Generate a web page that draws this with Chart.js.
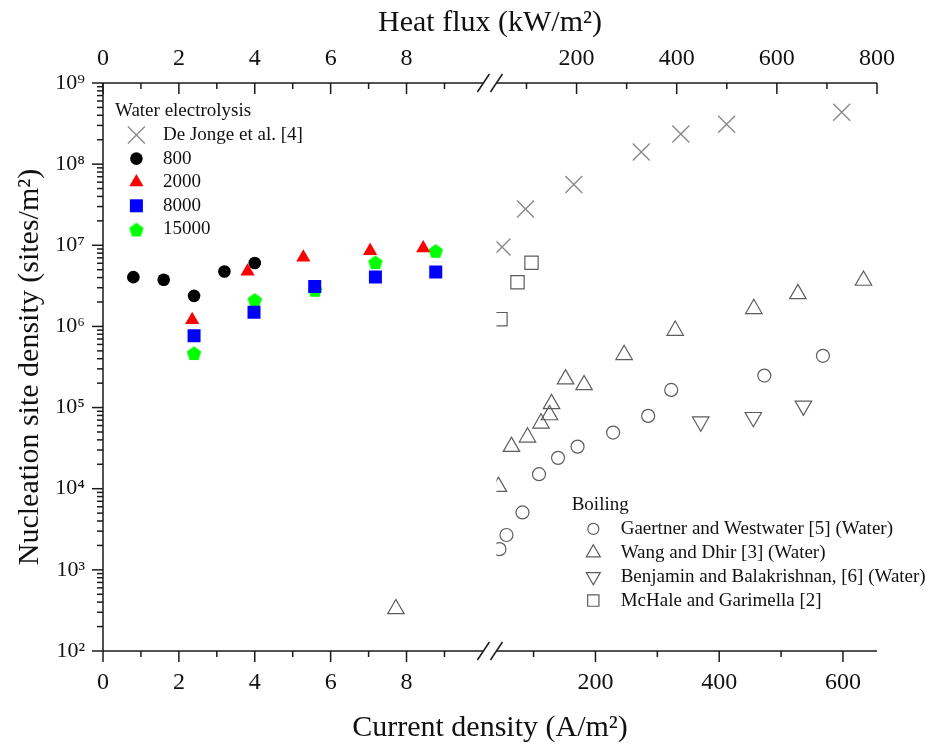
<!DOCTYPE html>
<html>
<head>
<meta charset="utf-8">
<script src="https://cdn.jsdelivr.net/npm/chart.js@4.4.1/dist/chart.umd.min.js"></script>
<style>
  html, body { margin: 0; padding: 0; background: #fff; }
  canvas { display: block; }
</style>
</head>
<body>
<canvas id="nsd" width="936" height="747"></canvas>
<script>
// Water electrolysis: current density (A/m2) vs nucleation site density (sites/m2)
const j800 = [0.8, 1.6, 2.4, 3.2, 4.0];
const n800 = [4.05e6, 3.76e6, 2.38e6, 4.75e6, 6.04e6];
const j2000 = [2.35, 3.81, 5.28, 7.04, 8.44];
const n2000 = [1.2e6, 4.75e6, 7.07e6, 8.55e6, 9.2e6];
const j8000 = [2.4, 3.98, 5.58, 7.18, 8.77];
const n8000 = [7.7e5, 1.5e6, 3.1e6, 4.06e6, 4.67e6];
const j15000 = [2.4, 4.0, 5.59, 7.18, 8.77];
const n15000 = [4.7e5, 2.13e6, 2.83e6, 6.2e6, 8.55e6];
const jDeJonge = [49, 87, 165, 274, 338, 412, 598];
const nDeJonge = [9.5e6, 2.8e7, 5.6e7, 1.41e8, 2.35e8, 3.1e8, 4.35e8];

// Boiling: heat flux (kW/m2) vs nucleation site density
const qGaertner = [46, 60, 92, 125, 163, 202, 273, 343, 389, 575, 692];
const nGaertner = [1.8e3, 2.69e3, 5.1e3, 1.51e4, 2.4e4, 3.3e4, 4.92e4, 7.9e4, 1.65e5, 2.48e5, 4.34e5];
const qWang = [7.72, 44, 70, 102, 129, 146, 150, 178, 215, 295, 397, 554, 642, 773];
const nWang = [330, 1.06e4, 3.3e4, 4.3e4, 6.4e4, 8.1e4, 1.11e5, 2.24e5, 1.9e5, 4.47e5, 8.9e5, 1.65e6, 2.52e6, 3.68e6];
const qBenjamin = [448, 553, 653];
const nBenjamin = [6.7e4, 7.6e4, 1.05e5];
const qMcHale = [48, 82, 110];
const nMcHale = [1.23e6, 3.5e6, 6.1e6];

// tick values
const currentTicks = [0, 2, 4, 6, 8, 200, 400, 600];
const currentMinor = [1, 3, 5, 7, 9, 100, 300, 500];
const heatTicks = [0, 2, 4, 6, 8, 200, 400, 600, 800];
const heatMinor = [1, 3, 5, 7, 9, 100, 300, 500, 700];
const decades = [1e2, 1e3, 1e4, 1e5, 1e6, 1e7, 1e8, 1e9];

// broken x axis: 0-10 on the left, 40-655 A/m2 (bottom) and 40-800 kW/m2 (top) on the right
const LEFT_END = 10, RIGHT_START = 40;
const CURRENT_END = 655, HEAT_END = 800;
const GAP = 0.37, RIGHT_LEN = 10.03;
const U_MAX = LEFT_END + GAP + RIGHT_LEN;

function brk(v, end) {
    if (v <= LEFT_END) return v;
    return LEFT_END + GAP + (v - RIGHT_START) / (end - RIGHT_START) * RIGHT_LEN;
}
const onCurrent = v => brk(v, CURRENT_END);
const onHeat = v => brk(v, HEAT_END);
const pts = (xs, ys, f) => xs.map((x, i) => ({ x: f(x), y: ys[i] }));

const FONT = "'Liberation Serif', 'Times New Roman', serif";
const SUP = { '0': '⁰', '1': '¹', '2': '²', '3': '³', '4': '⁴', '5': '⁵', '6': '⁶', '7': '⁷', '8': '⁸', '9': '⁹' };
const pow10 = v => '10' + String(Math.round(Math.log10(v))).split('').map(c => SUP[c]).join('');

// green pentagon marker (no built-in pentagon point style)
function makePentagon(color, r) {
    const c = document.createElement('canvas');
    const s = Math.ceil(r * 2 + 2);
    c.width = s; c.height = s;
    const g = c.getContext('2d');
    g.fillStyle = color;
    g.beginPath();
    for (let k = 0; k < 5; k++) {
        const a = -Math.PI / 2 + k * 2 * Math.PI / 5;
        const px = s / 2 + r * Math.cos(a), py = s / 2 + r * Math.sin(a) + r * 0.1;
        if (k) g.lineTo(px, py); else g.moveTo(px, py);
    }
    g.closePath();
    g.fill();
    return c;
}
const pentagon = makePentagon('#00ff00', 7.6);

const GRAY = '#5c5c5c';
const datasets = [
    { label: 'De Jonge et al. [4]', data: pts(jDeJonge, nDeJonge, onCurrent), xAxisID: 'x',
      pointStyle: 'crossRot', pointRadius: 12, pointBorderColor: '#8a8a8a', pointBorderWidth: 1.4, pointBackgroundColor: 'transparent' },
    { label: '800', data: pts(j800, n800, onCurrent), xAxisID: 'x',
      pointStyle: 'circle', pointRadius: 6.3, pointBackgroundColor: '#000000', pointBorderWidth: 0 },
    { label: '2000', data: pts(j2000, n2000, onCurrent), xAxisID: 'x',
      pointStyle: 'triangle', pointRadius: 8.2, pointBackgroundColor: '#ff0000', pointBorderWidth: 0 },
    { label: '8000', data: pts(j8000, n8000, onCurrent), xAxisID: 'x',
      pointStyle: 'rect', pointRadius: 9.2, pointBackgroundColor: '#0000ff', pointBorderWidth: 0 },
    { label: '15000', data: pts(j15000, n15000, onCurrent), xAxisID: 'x',
      pointStyle: pentagon, pointRadius: 8, pointBackgroundColor: '#00ff00', pointBorderWidth: 0 },
    { label: 'Gaertner and Westwater [5] (Water)', data: pts(qGaertner, nGaertner, onHeat), xAxisID: 'x2',
      pointStyle: 'circle', pointRadius: 6.5, pointBorderColor: GRAY, pointBorderWidth: 1.2, pointBackgroundColor: 'transparent' },
    { label: 'Wang and Dhir [3] (Water)', data: pts(qWang, nWang, onHeat), xAxisID: 'x2',
      pointStyle: 'triangle', pointRadius: 9.5, pointBorderColor: GRAY, pointBorderWidth: 1.2, pointBackgroundColor: 'transparent' },
    { label: 'Benjamin and Balakrishnan, [6] (Water)', data: pts(qBenjamin, nBenjamin, onHeat), xAxisID: 'x2',
      pointStyle: 'triangle', pointRotation: 180, pointRadius: 9.5, pointBorderColor: GRAY, pointBorderWidth: 1.2, pointBackgroundColor: 'transparent' },
    { label: 'McHale and Garimella [2]', data: pts(qMcHale, nMcHale, onHeat), xAxisID: 'x2',
      pointStyle: 'rect', pointRadius: 9.4, pointBorderColor: GRAY, pointBorderWidth: 1.2, pointBackgroundColor: 'transparent' }
];

// two legend blocks inside the plot, offsets from the chart area corner
const legends = [
    { title: 'Water electrolysis', items: [0, 1, 2, 3, 4], x: 12, y: 28.4, mx: 33.4, tx: 60, dy: 23.6, k: 1 },
    { title: 'Boiling', items: [5, 6, 7, 8], x: 468.7, y: 422, mx: 490.3, tx: 517.7, dy: 23.9, k: 0.85 }
];

const brokenAxes = {
    id: 'brokenAxes',
    beforeDatasetDraw(chart) {
        const { ctx, chartArea: a, scales } = chart;
        const gl = scales.x.getPixelForValue(LEFT_END);
        const gr = scales.x.getPixelForValue(onCurrent(RIGHT_START));
        ctx.save();
        ctx.beginPath();
        ctx.rect(a.left - 20, a.top - 20, gl - a.left + 20, a.bottom - a.top + 40);
        ctx.rect(gr, a.top - 20, a.right - gr + 20, a.bottom - a.top + 40);
        ctx.clip();
    },
    afterDatasetDraw(chart) {
        chart.ctx.restore();
    },
    afterDraw(chart) {
        const { ctx, chartArea: a, scales } = chart;
        const xb = scales.x, xt = scales.x2, y = scales.y;
        const gl = xb.getPixelForValue(LEFT_END);
        const gr = xb.getPixelForValue(onCurrent(RIGHT_START));
        const line = (x1, y1, x2, y2) => { ctx.beginPath(); ctx.moveTo(x1, y1); ctx.lineTo(x2, y2); ctx.stroke(); };

        ctx.save();
        ctx.strokeStyle = '#1a1a1a';
        ctx.lineWidth = 1.5;
        line(a.left, a.top, a.left, a.bottom);
        [a.top, a.bottom].forEach(yy => {
            line(a.left, yy, gl + 1, yy);
            line(gr, yy, a.right, yy);
            line(gl - 5, yy + 9, gl + 7, yy - 9);
            line(gr - 6, yy + 9, gr + 6, yy - 9);
        });
        currentTicks.forEach(v => { const p = xb.getPixelForValue(onCurrent(v)); line(p, a.bottom, p, a.bottom + 11); });
        currentMinor.forEach(v => { const p = xb.getPixelForValue(onCurrent(v)); line(p, a.bottom, p, a.bottom + 6); });
        heatTicks.forEach(v => { const p = xt.getPixelForValue(onHeat(v)); line(p, a.top, p, a.top + 11); });
        heatMinor.forEach(v => { const p = xt.getPixelForValue(onHeat(v)); line(p, a.top, p, a.top + 6); });
        decades.forEach((d, i) => {
            const p = y.getPixelForValue(d);
            line(a.left - 11, p, a.left, p);
            if (i < decades.length - 1) {
                for (let m = 2; m <= 9; m++) {
                    const q = y.getPixelForValue(d * m);
                    line(a.left - 6, q, a.left, q);
                }
            }
        });

        // legends
        ctx.font = '19px ' + FONT;
        ctx.textBaseline = 'middle';
        ctx.textAlign = 'left';
        legends.forEach(lg => {
            ctx.fillStyle = '#111';
            ctx.fillText(lg.title, a.left + lg.x, a.top + lg.y);
            lg.items.forEach((di, r) => {
                const ds = chart.data.datasets[di];
                const cy = a.top + lg.y + (r + 1) * lg.dy;
                ctx.save();
                ctx.fillStyle = ds.pointBackgroundColor;
                ctx.strokeStyle = ds.pointBorderColor || ds.pointBackgroundColor;
                ctx.lineWidth = ds.pointBorderWidth;
                Chart.helpers.drawPoint(ctx, {
                    pointStyle: ds.pointStyle,
                    rotation: ds.pointRotation || 0,
                    radius: ds.pointRadius * lg.k,
                    borderWidth: ds.pointBorderWidth
                }, a.left + lg.mx, cy);
                ctx.restore();
                ctx.fillStyle = '#111';
                ctx.fillText(ds.label, a.left + lg.tx, cy);
            });
        });
        ctx.restore();
    }
};

new Chart(document.getElementById('nsd').getContext('2d'), {
    type: 'scatter',
    data: { datasets: datasets },
    options: {
        responsive: false,
        devicePixelRatio: 1,
        animation: false,
        events: [],
        layout: { padding: { left: 0, right: 59, top: 0, bottom: 0 } },
        plugins: { legend: { display: false }, tooltip: { enabled: false } },
        scales: {
            x: {
                type: 'linear', position: 'bottom', min: 0, max: U_MAX,
                afterBuildTicks: s => { s.ticks = currentTicks.map(v => ({ value: onCurrent(v) })); },
                afterFit: s => { s.height = 96; },
                grid: { display: false, drawTicks: false },
                border: { display: false },
                ticks: { callback: (v, i) => String(currentTicks[i]), font: { family: FONT, size: 24 }, color: '#111', padding: 17, maxRotation: 0, autoSkip: false },
                title: { display: true, text: 'Current density (A/m²)', font: { family: FONT, size: 30 }, color: '#111', padding: { top: 0, bottom: 1 } }
            },
            x2: {
                type: 'linear', position: 'top', min: 0, max: U_MAX,
                afterBuildTicks: s => { s.ticks = heatTicks.map(v => ({ value: onHeat(v) })); },
                afterFit: s => { s.height = 83; },
                grid: { display: false, drawTicks: false },
                border: { display: false },
                ticks: { callback: (v, i) => String(heatTicks[i]), font: { family: FONT, size: 24 }, color: '#111', padding: 10, maxRotation: 0, autoSkip: false },
                title: { display: true, text: 'Heat flux (kW/m²)', font: { family: FONT, size: 30 }, color: '#111', padding: { top: 5, bottom: 0 } }
            },
            y: {
                type: 'logarithmic', position: 'left', min: 1e2, max: 1e9,
                afterBuildTicks: s => { s.ticks = decades.map(v => ({ value: v })); },
                afterFit: s => { s.width = 103; },
                grid: { display: false, drawTicks: false },
                border: { display: false },
                ticks: { callback: v => pow10(v), font: { family: FONT, size: 22 }, color: '#111', padding: 18, autoSkip: false },
                title: { display: true, text: 'Nucleation site density (sites/m²)', font: { family: FONT, size: 30 }, color: '#111', padding: { top: 12, bottom: 0 } }
            }
        }
    },
    plugins: [brokenAxes]
});
</script>
</body>
</html>
